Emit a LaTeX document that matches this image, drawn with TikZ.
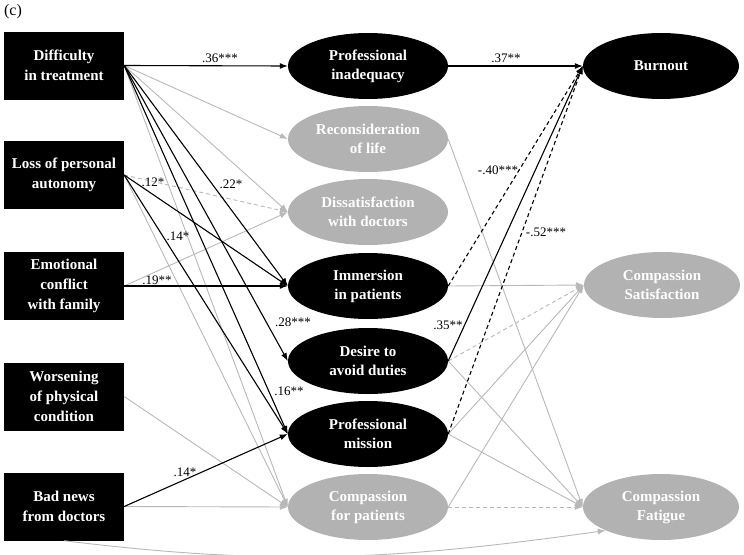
\documentclass[tikz,border=0pt]{standalone}
\usepackage{fontspec}
\setmainfont{Liberation Serif}
\usepackage{tikz}
\usetikzlibrary{arrows.meta,shapes.geometric}
\definecolor{palefill}{gray}{0.70}
\definecolor{paleline}{gray}{0.72}

\begin{document}
\begin{tikzpicture}[
    x=1pt, y=-1pt,
    factor/.style={fill=black, text=white, minimum width=120pt, minimum height=68pt, inner sep=0pt, align=center, font=\fontsize{15}{20}\selectfont\bfseries},
    darkell/.style={ellipse, fill=black, text=white, minimum width=160pt, minimum height=66pt, inner sep=0pt, align=center, font=\fontsize{15}{19}\selectfont\bfseries},
    paleell/.style={darkell, fill=palefill},
    sig/.style={draw=black, line width=1.1pt, -{Latex[length=8pt,width=6pt]}},
    neg/.style={sig, dash pattern=on 4pt off 3pt},
    nonsig/.style={draw=paleline, line width=0.9pt, -{Latex[length=8pt,width=6pt]}},
    nonsigdash/.style={nonsig, dash pattern=on 4pt off 3pt},
    coef/.style={font=\fontsize{13}{15}\selectfont, inner sep=0pt}
]
\useasboundingbox (0,0) rectangle (744,554);

\node[coef, font=\fontsize{16}{18}\selectfont] (tag) at (13,12) {(c)};

\node[factor] (diff) at (64,65.5) {Difficulty\\in treatment};
\node[factor] (loss) at (64,175) {Loss of personal\\autonomy};
\node[factor] (emo) at (64,286) {Emotional\\conflict\\with family};
\node[factor] (worse) at (64,396.5) {Worsening\\of physical\\condition};
\node[factor] (bad) at (64,506.5) {Bad news\\from doctors};

\node[darkell] (inad) at (368,66) {Professional\\inadequacy};
\node[paleell] (recon) at (368,139) {Reconsideration\\of life};
\node[paleell] (dissat) at (368,212) {Dissatisfaction\\with doctors};
\node[darkell] (immer) at (368,286) {Immersion\\in patients};
\node[darkell] (avoid) at (368,361) {Desire to\\avoid duties};
\node[darkell] (mission) at (368,434) {Professional\\mission};
\node[paleell] (compat) at (368,507) {Compassion\\for patients};

\node[darkell, minimum width=156pt] (burn) at (661,66) {Burnout};
\node[paleell, minimum width=156pt] (csat) at (662,285) {Compassion\\Satisfaction};
\node[paleell, minimum width=156pt] (cfat) at (661,507) {Compassion\\Fatigue};

\draw[nonsig] (diff.east) -- (recon.west);
\draw[nonsig] (diff.east) -- (dissat.west);
\draw[nonsig] (diff.east) -- (compat.west);
\draw[nonsigdash] (loss.east) -- (dissat.west);
\draw[nonsig] (loss.east) -- (compat.west);
\draw[nonsig] (emo.east) -- (dissat.west);
\draw[nonsig] (worse.east) -- (compat.west);
\draw[nonsig] (bad.east) -- (compat.west);
\draw[nonsig] (bad.south) to[out=-7,in=188] (cfat.south west);

\draw[sig] (diff.east) -- (inad.west);
\draw[sig] (diff.east) -- (immer.west);
\draw[sig] (diff.east) -- (avoid.west);
\draw[sig] (diff.east) -- (mission.west);
\draw[sig] (loss.east) -- (immer.west);
\draw[sig] (loss.east) -- (mission.west);
\draw[sig] (emo.east) -- (immer.west);
\draw[sig] (bad.east) -- (mission.west);

\draw[nonsig] (recon.east) -- (cfat.west);
\draw[nonsig] (immer.east) -- (csat.west);
\draw[nonsigdash] (avoid.east) -- (csat.west);
\draw[nonsig] (avoid.east) -- (cfat.west);
\draw[nonsig] (mission.east) -- (csat.west);
\draw[nonsig] (mission.east) -- (cfat.west);
\draw[nonsig] (compat.east) -- (csat.west);
\draw[nonsigdash] (compat.east) -- (cfat.west);

\draw[sig] (inad.east) -- (burn.west);
\draw[neg] (immer.east) -- (burn.west);
\draw[sig] (avoid.east) -- (burn.west);
\draw[neg] (mission.east) -- (burn.west);

\node[coef] (c1) at (220,58.5) {.36***};
\node[coef] (c2) at (153,182) {.12*};
\node[coef] (c3) at (231,184) {.22*};
\node[coef] (c4) at (178,236) {.14*};
\node[coef] (c5) at (157,280) {.19**};
\node[coef] (c6) at (293,322) {.28***};
\node[coef] (c7) at (289,391) {.16**};
\node[coef] (c8) at (185,472) {.14*};
\node[coef] (c9) at (506,58) {.37**};
\node[coef] (c10) at (498,170) {-.40***};
\node[coef] (c11) at (546,232) {-.52***};
\node[coef] (c12) at (448,325) {.35**};
\end{tikzpicture}
\end{document}
